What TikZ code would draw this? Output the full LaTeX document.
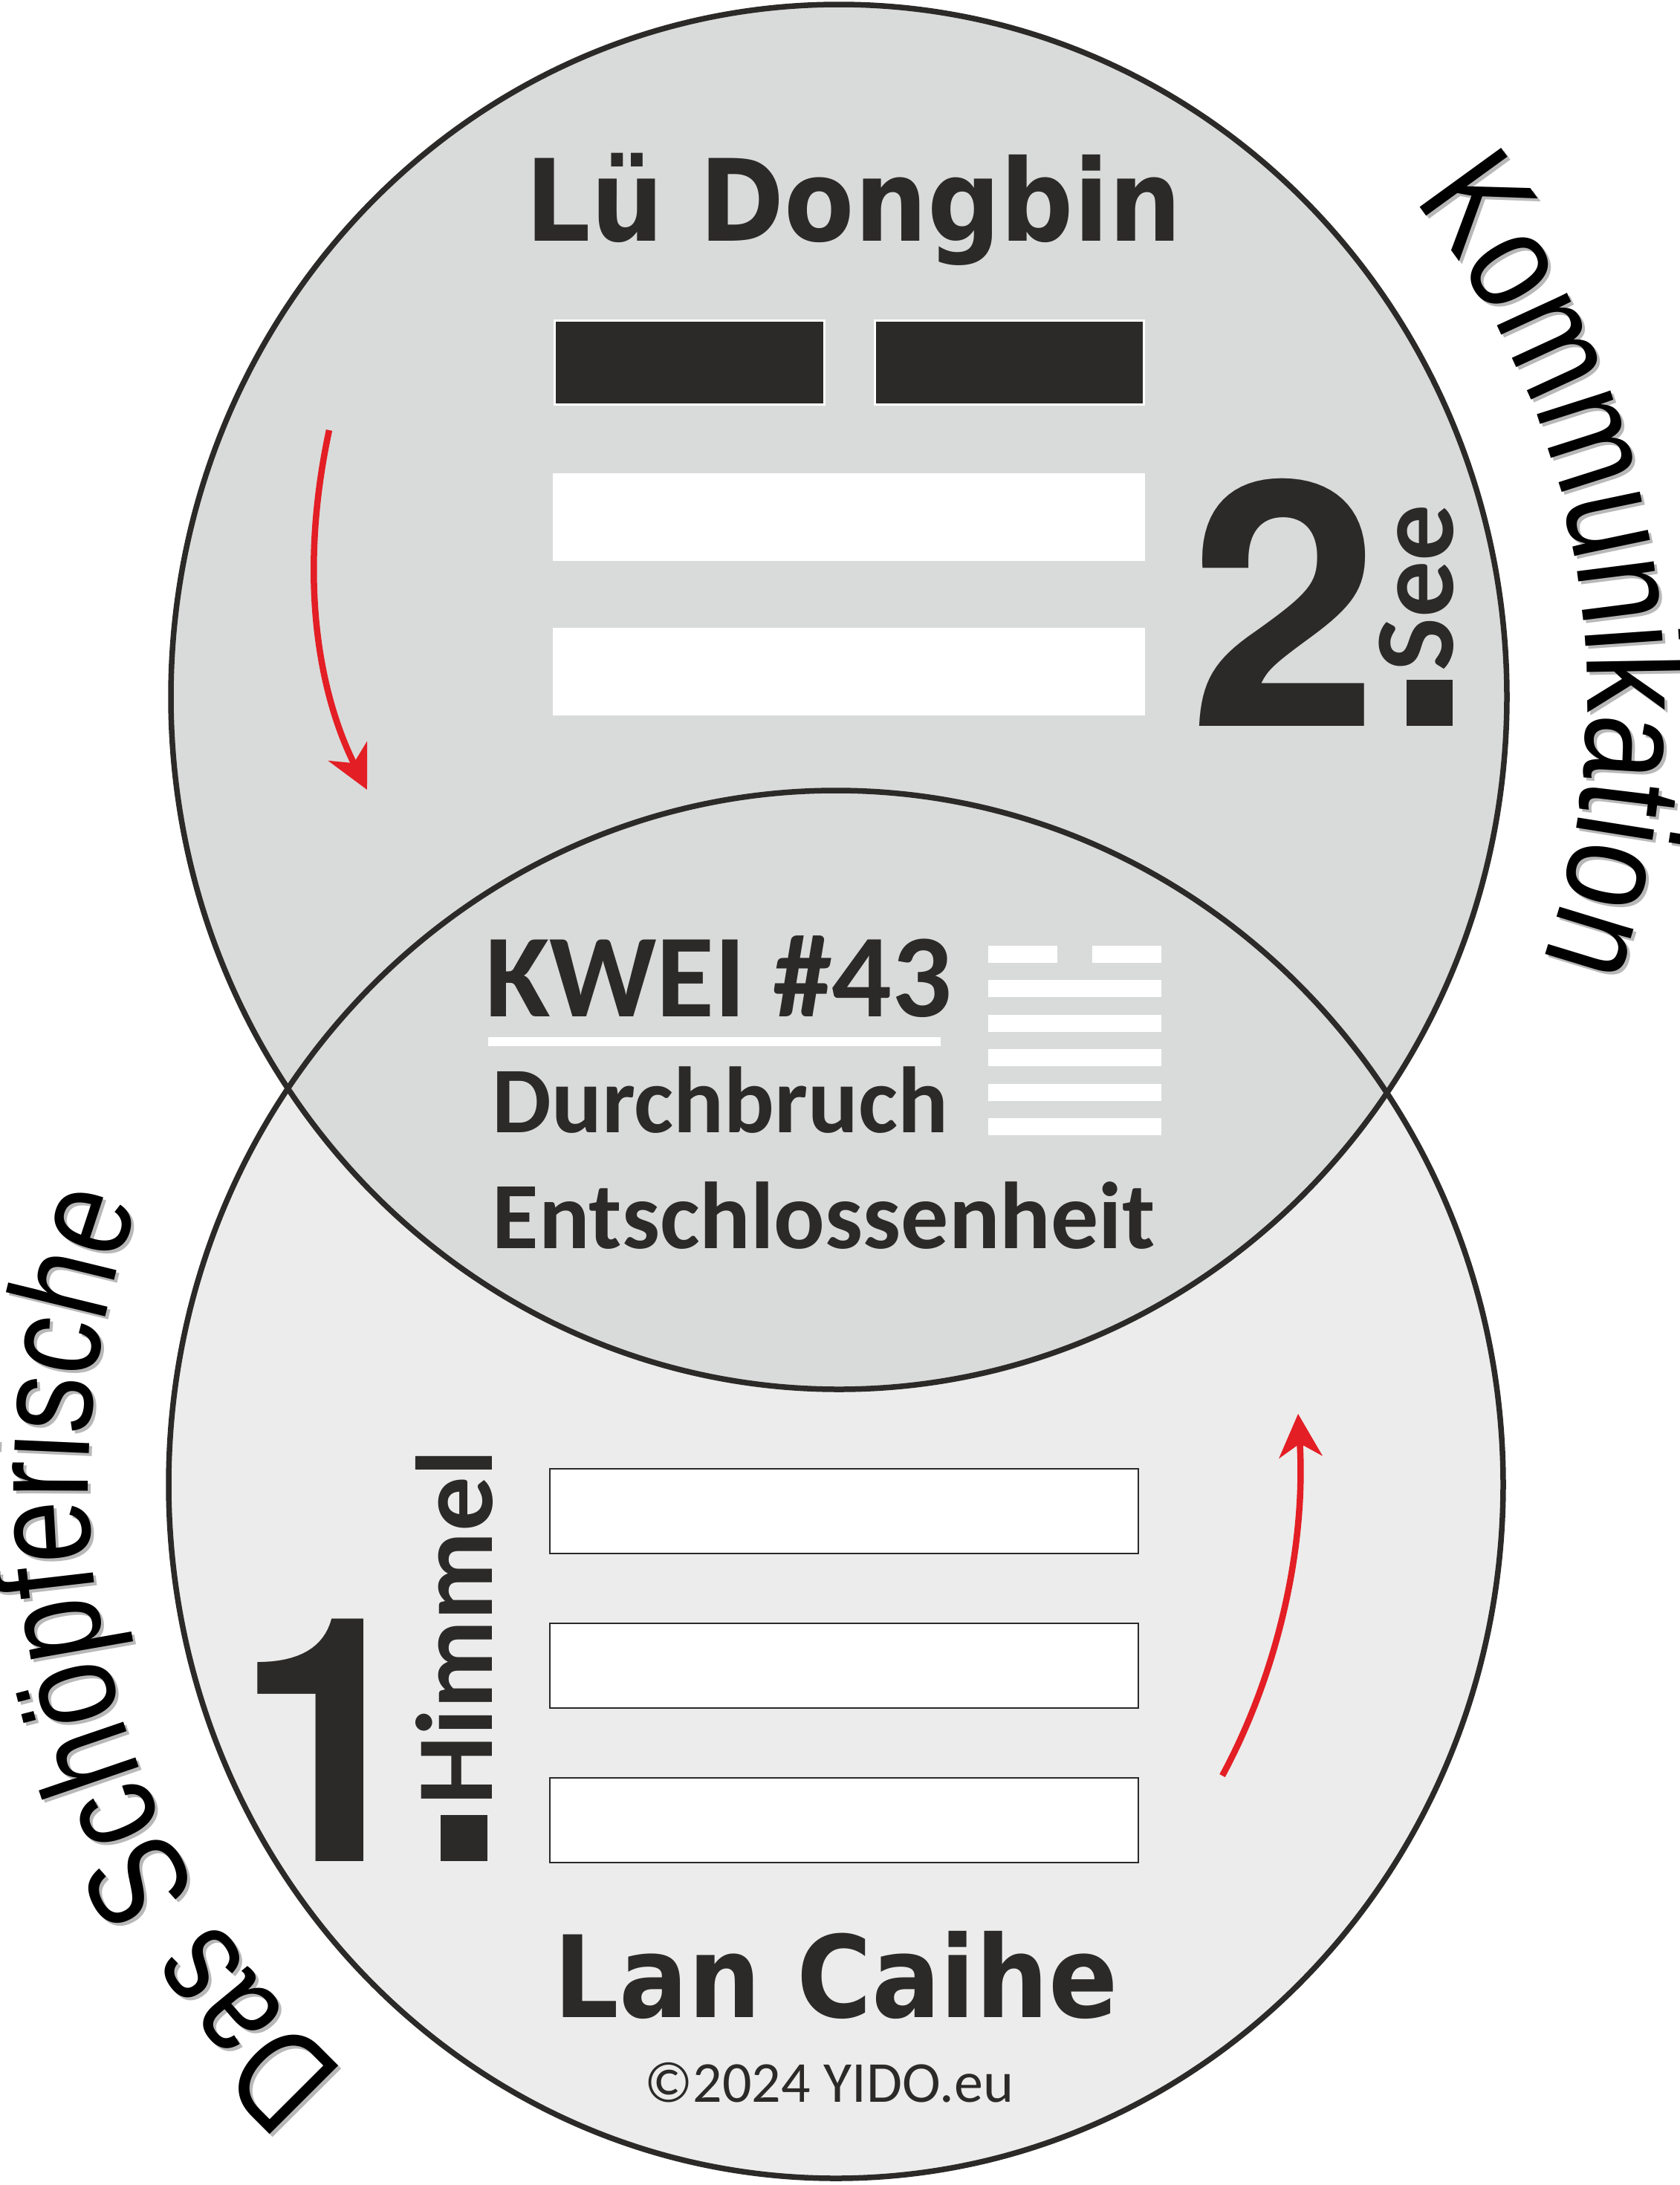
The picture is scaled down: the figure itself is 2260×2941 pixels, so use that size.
\documentclass[tikz,border=0pt]{standalone}
\usepackage{fontspec}
\usetikzlibrary{arrows.meta}
\usetikzlibrary{decorations.text}
\definecolor{bg1}{HTML}{D9DBDA}
\definecolor{bg2}{HTML}{EBECEB}
\definecolor{ink}{HTML}{2C2A29}
\definecolor{r1}{HTML}{E31E24}
\definecolor{sh}{HTML}{B8B8B8}
\newfontfamily\namefont{DejaVu Sans}[FakeStretch=0.9]
\newfontfamily\labelfont{Carlito}
\newfontfamily\digitfont{TeX Gyre Heros}
\newfontfamily\arcfont{Liberation Sans}[FakeStretch=0.8]

\begin{document}
\begin{tikzpicture}[
    x=0.1mm, y=-0.1mm,
    ring/.style={
        draw=ink, line width=0.75mm
    },
    yin/.style={fill=ink, draw=white, line width=0.3mm},
    yang/.style={fill=white},
    bar/.style={fill=white, draw=ink, line width=0.27mm},
    immortal/.style={inner sep=0pt, anchor=base, text=ink,
        font=\namefont\bfseries\fontsize{43.5pt}{52pt}\selectfont},
    big/.style={inner sep=0pt, anchor=base, text=ink,
        font=\digitfont\bfseries\fontsize{131pt}{150pt}\selectfont},
    lbl/.style={inner sep=0pt, anchor=base west, text=ink,
        font=\labelfont\bfseries\fontsize{36pt}{42pt}\selectfont},
    side/.style={inner sep=0pt, anchor=base west, rotate=90, text=ink},
    arr/.style={draw=r1, line width=0.85mm,
        -{Stealth[length=5.8mm, width=5.8mm, inset=1.8mm]}}
]

    \useasboundingbox (0,0) rectangle (2260,2941);

    \fill [bg2] (1125,1998) ellipse [x radius=898, y radius=934];
    \fill [bg1] (1129,938) ellipse [x radius=899, y radius=932];
    \draw [ring] (1125,1998) ellipse [x radius=898, y radius=934];
    \draw [ring] (1129,938) ellipse [x radius=899, y radius=932];

    % upper trigram
    \path [yin] (746,431) rectangle (1109,544);
    \path [yin] (1177,431) rectangle (1539,544);
    \path [yang] (744,637) rectangle (1541,755);
    \path [yang] (744,845) rectangle (1541,963);

    % lower trigram
    \path [bar] (740,1977) rectangle (1532,2091);
    \path [bar] (740,2185) rectangle (1532,2299);
    \path [bar] (740,2393) rectangle (1532,2507);

    % hexagram
    \path [yang] (1330,1273) rectangle (1423,1296);
    \path [yang] (1470,1273) rectangle (1563,1296);
    \path [yang] (1330,1319) rectangle (1563,1342);
    \path [yang] (1330,1366) rectangle (1563,1389);
    \path [yang] (1330,1412) rectangle (1563,1435);
    \path [yang] (1330,1459) rectangle (1563,1482);
    \path [yang] (1330,1505) rectangle (1563,1528);
    \path [yang] (657,1396) rectangle (1266,1408);

    \node [immortal] (LD) at (1149,324) {Lü Dongbin};
    \node [immortal] (LC) at (1125,2715) {Lan Caihe};
    \node [lbl, font=\labelfont\bfseries\fontsize{45.4pt}{52pt}\selectfont]
        (KW) at (653,1368) {KWEI \#43};
    \node [lbl] (DB) at (662,1524) {Durchbruch};
    \node [lbl, font=\labelfont\bfseries\fontsize{36.4pt}{42pt}\selectfont]
        (ES) at (662,1680) {Entschlossenheit};

    \node [big] (N2) at (1728,977) {2};
    \fill [ink] (1893,915) rectangle (1955,977);
    \node [side, font=\labelfont\bfseries\fontsize{43.2pt}{50pt}\selectfont]
        (SE) at (1955,904) {See};

    \node [big] (N1) at (443,2505) {1};
    \fill [ink] (593,2443) rectangle (656,2505);
    \node [side, font=\labelfont\bfseries\fontsize{41.8pt}{50pt}\selectfont]
        (HI) at (662,2430) {Himmel};

    \node [inner sep=0pt, anchor=base, text=ink,
        font=\labelfont\fontsize{22.2pt}{26pt}\selectfont]
        (CR) at (1116,2829) {©2024 YIDO.eu};

    \coordinate (A1) at (443,579);
    \coordinate (A2) at (494,1063);
    \coordinate (B1) at (1645,2390);
    \coordinate (B2) at (1747,1903);
    \draw [arr] (A1) .. controls (400,780) and (430,935) .. (A2);
    \draw [arr] (B1) .. controls (1718,2255) and (1758,2085) .. (B2);

    % curved captions with a light shadow
    \path [shift={(4,4)}, decorate, decoration={text along path, text align=center, text color=sh,
        text={|\arcfont\fontsize{56pt}{60pt}\selectfont|Kommunikation}}]
        (1129,938) ++(-46:1007 and 1044) arc [start angle=-46, end angle=26, x radius=1007, y radius=1044];
    \path [decorate, decoration={text along path, text align=center, text color=black,
        text={|\arcfont\fontsize{56pt}{60pt}\selectfont|Kommunikation}}]
        (1129,938) ++(-46:1007 and 1044) arc [start angle=-46, end angle=26, x radius=1007, y radius=1044];
    \path [shift={(4,4)}, decorate, decoration={text along path, text align=center, text color=sh,
        text={|\arcfont\fontsize{54pt}{60pt}\selectfont|Das Schöpferische}}]
        (1125,1998) ++(127:1006 and 1046) arc [start angle=127, end angle=205, x radius=1006, y radius=1046];
    \path [decorate, decoration={text along path, text align=center, text color=black,
        text={|\arcfont\fontsize{54pt}{60pt}\selectfont|Das Schöpferische}}]
        (1125,1998) ++(127:1006 and 1046) arc [start angle=127, end angle=205, x radius=1006, y radius=1046];

\end{tikzpicture}
\end{document}
